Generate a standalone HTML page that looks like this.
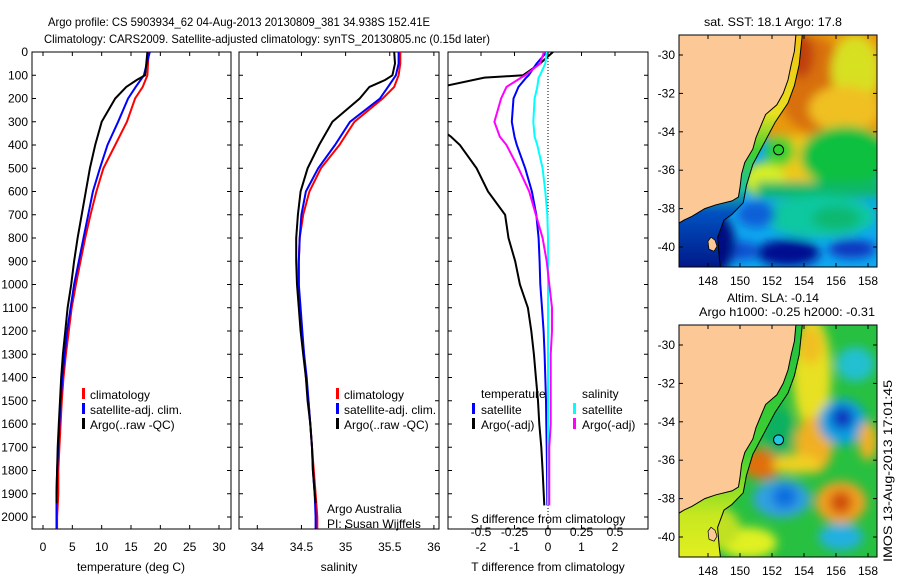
<!DOCTYPE html>
<html><head><meta charset="utf-8"><style>
html,body{margin:0;padding:0;background:#fff;}
svg{display:block;font-family:"Liberation Sans",sans-serif;}
text{font-size:12px;fill:#000;}
</style></head><body>
<svg id="fig" width="900" height="580" viewBox="0 0 900 580">
<defs>
<filter id="bl" x="-20%" y="-20%" width="140%" height="140%"><feGaussianBlur stdDeviation="5"/></filter>
<clipPath id="c1"><rect x="32" y="52" width="199" height="477"/></clipPath>
<clipPath id="c2"><rect x="239" y="52" width="200" height="477"/></clipPath>
<clipPath id="c3"><rect x="448" y="52" width="200" height="477"/></clipPath>
<clipPath id="m1"><rect x="679" y="35" width="198" height="232"/></clipPath>
<clipPath id="m2"><rect x="679" y="325" width="198" height="232"/></clipPath>
<linearGradient id="shelf1" x1="0" y1="0" x2="0" y2="1">
<stop offset="0" stop-color="#f0c010"/><stop offset="0.35" stop-color="#e8e020"/><stop offset="0.5" stop-color="#40d030"/><stop offset="0.65" stop-color="#20c0a0"/><stop offset="0.75" stop-color="#0050c0"/><stop offset="1" stop-color="#001080"/>
</linearGradient>
<linearGradient id="shelf2" x1="0" y1="0" x2="0" y2="1">
<stop offset="0" stop-color="#20c040"/><stop offset="0.55" stop-color="#40d030"/><stop offset="0.8" stop-color="#c8e820"/><stop offset="1" stop-color="#e8f020"/>
</linearGradient>
</defs>
<text x="48" y="26" textLength="382" lengthAdjust="spacingAndGlyphs">Argo profile: CS 5903934_62 04-Aug-2013 20130809_381 34.938S 152.41E</text>
<text x="44" y="43" textLength="446" lengthAdjust="spacingAndGlyphs">Climatology: CARS2009. Satellite-adjusted climatology: synTS_20130805.nc (0.15d later)</text>

<g id="maps"></g>
<g id="panels"></g>
<text transform="translate(892,562) rotate(-90)" textLength="182" lengthAdjust="spacingAndGlyphs">IMOS 13-Aug-2013 17:01:45</text>
</svg>
<script>
// ---------- profile data ----------
const depthT = [0,50,100,150,200,300,400,500,600,700,800,900,1000,1100,1200,1300,1400,1500,1600,1700,1800,1900,2000,2050];
const tempClim = [18.0,17.9,17.8,17.0,15.7,14.3,12.3,10.3,9.1,8.1,7.2,6.4,5.6,4.9,4.4,3.9,3.5,3.2,3.0,2.8,2.6,2.6,2.4,2.4];
const tempSat  = [18.2,17.7,17.2,15.8,14.5,12.8,11.0,9.7,8.5,7.7,6.9,6.1,5.3,4.7,4.1,3.7,3.3,3.0,2.8,2.6,2.4,2.3,2.3,2.3];
const depthA = [0,50,100,120,150,200,300,400,500,600,700,800,900,1000,1100,1200,1300,1400,1500,1600,1700,1800,1900,1940];
const tempArgo = [17.8,17.6,17.4,16.0,14.2,12.3,10.0,8.9,8.0,7.3,6.6,5.9,5.3,4.8,4.2,3.8,3.4,3.1,2.9,2.7,2.5,2.4,2.3,2.3];
const salClim = [35.62,35.62,35.6,35.55,35.42,35.1,34.93,34.72,34.59,34.52,34.48,34.47,34.47,34.48,34.5,34.53,34.55,34.58,34.6,34.62,34.64,34.66,34.68,34.68];
const salSat  = [35.6,35.6,35.57,35.48,35.39,35.05,34.88,34.69,34.55,34.5,34.48,34.47,34.47,34.49,34.51,34.53,34.56,34.58,34.6,34.62,34.63,34.65,34.66,34.66];
const salArgo = [35.55,35.56,35.53,35.45,35.27,35.16,34.85,34.7,34.57,34.49,34.46,34.44,34.44,34.45,34.47,34.49,34.52,34.55,34.57,34.6,34.62,34.63,34.65,34.66];
const depthD = [0,50,100,110,150,200,300,364,400,500,600,700,800,900,1000,1100,1200,1300,1400,1500,1600,1700,1800,1950];
const dTArgo = [0.15,-0.24,-0.75,-1.9,-3.2,-3.5,-3.5,-2.9,-2.63,-2.13,-1.79,-1.28,-1.18,-0.98,-0.84,-0.6,-0.5,-0.42,-0.36,-0.3,-0.26,-0.2,-0.16,-0.11];
const dTSat  = [-0.04,-0.34,-0.58,-0.65,-0.88,-1.03,-1.08,-1.0,-0.93,-0.68,-0.48,-0.35,-0.28,-0.25,-0.23,-0.18,-0.13,-0.1,-0.08,-0.06,-0.05,-0.04,-0.03,-0.02];
const dSSat  = [-0.01,-0.02,-0.06,-0.07,-0.08,-0.1,-0.11,-0.1,-0.08,-0.04,-0.02,-0.005,0,0,0,0,0,0,0,0,0,0,0,0];
const dSArgo = [-0.03,-0.06,-0.17,-0.2,-0.31,-0.35,-0.4,-0.36,-0.31,-0.22,-0.14,-0.09,-0.04,-0.01,0.01,0.03,0.03,0.02,0.02,0.02,0.02,0.01,0.01,0.01];
const depthTicks = [0,100,200,300,400,500,600,700,800,900,1000,1100,1200,1300,1400,1500,1600,1700,1800,1900,2000];
const tTicks = [0,5,10,15,20,25,30];
const sTicks = [34,34.5,35,35.5,36];
const dTTicks = [-2,-1,0,1,2];
const dSTicks = [-0.5,-0.25,0,0.25,0.5];
const dSTickLabels = ["-0.5","-0.25","0","0.25","0.5"];
const mapLonTicks = [148,150,152,154,156,158];
const mapLatTicks = [-30,-32,-34,-36,-38,-40];

const NS="http://www.w3.org/2000/svg";
function mk(tag, attrs, parent){const e=document.createElementNS(NS,tag);for(const k in attrs)e.setAttribute(k,attrs[k]);parent.appendChild(e);return e;}
const Y = d => 52 + 0.2325*d;
const xT = v => 43 + 5.867*v;
const xS = v => 257.3 + 88.3*(v-34);
const xDT = v => 548 + 33.5*v;
const xDS = v => 548 + 134*v;
const panels=document.getElementById('panels');

function line(depths, vals, xf, color, clip, name, w){
  let d='';
  for(let i=0;i<vals.length;i++){d+=(i?'L':'M')+xf(vals[i]).toFixed(1)+','+Y(depths[i]).toFixed(1);}
  const p=mk('path',{d:d,fill:'none',stroke:color,'stroke-width':w||2,'clip-path':'url(#'+clip+')'},panels);
  
  
}
function frame(x0,x1,name){
  const r=mk('rect',{x:x0,y:52,width:x1-x0,height:477,fill:'none',stroke:'#000','stroke-width':1},panels);
  
  
  depthTicks.forEach(d=>{
    mk('line',{x1:x0,x2:x0+4,y1:Y(d),y2:Y(d),stroke:'#000'},panels);
    mk('line',{x1:x1-4,x2:x1,y1:Y(d),y2:Y(d),stroke:'#000'},panels);
  });
}
function xticks(vals, xf, labels, ly, name){
  vals.forEach((v,i)=>{
    const x=xf(v);
    mk('line',{x1:x,x2:x,y1:52,y2:56,stroke:'#000'},panels);
    mk('line',{x1:x,x2:x,y1:525,y2:529,stroke:'#000'},panels);
    if(labels){const t=mk('text',{x:x,y:ly,'text-anchor':'middle'},panels);t.textContent=labels[i];
      
      }
  });
}
function txt(x,y,s,name,anchor){const t=mk('text',{x:x,y:y,'text-anchor':anchor||'start'},panels);t.textContent=s;
  
  return t;}
function legBar(x,y,c){mk('rect',{x:x,y:y-10,width:3,height:11,fill:c},panels);}

// Panel 1
frame(32,231,'temperature-panel');
depthTicks.forEach(d=>{const t=txt(28,Y(d)+4,String(d),'depth-tick-label','end');});
xticks(tTicks,xT,tTicks.map(String),551,'temperature-tick-label');
line(depthT,tempClim,xT,'#ff0000','c1','temp-climatology-line');
line(depthT,tempSat,xT,'#0000ff','c1','temp-satellite-line');
line(depthA,tempArgo,xT,'#000000','c1','temp-argo-line');
txt(131,571,'temperature (deg C)','temperature-axis-title','middle');
legBar(82,398,'#f00');txt(90,399,'climatology','legend-climatology');
legBar(82,413,'#00f');txt(90,414,'satellite-adj. clim.','legend-satellite');
legBar(82,428,'#000');txt(90,429,'Argo(..raw -QC)','legend-argo');

// Panel 2
frame(239,439,'salinity-panel');
xticks(sTicks,xS,sTicks.map(String),551,'salinity-tick-label');
line(depthT,salClim,xS,'#ff0000','c2','sal-climatology-line');
line(depthT,salSat,xS,'#0000ff','c2','sal-satellite-line');
line(depthA,salArgo,xS,'#000000','c2','sal-argo-line');
txt(339,571,'salinity','salinity-axis-title','middle');
legBar(336,398,'#f00');txt(344,399,'climatology','legend-climatology');
legBar(336,413,'#00f');txt(344,414,'satellite-adj. clim.','legend-satellite');
legBar(336,428,'#000');txt(344,429,'Argo(..raw -QC)','legend-argo');
txt(327,513,'Argo Australia','credit-line-1');
txt(327,528,'PI: Susan Wijffels','credit-line-2');

// Panel 3
frame(448,648,'difference-panel');
mk('line',{x1:548,x2:548,y1:52,y2:529,stroke:'#000','stroke-dasharray':'1,2'},panels);
xticks(dTTicks,xDT,dTTicks.map(String),551,'t-diff-tick-label');
dSTicks.forEach((v,i)=>{const t=txt(xDS(v),536,dSTickLabels[i],'s-diff-tick-label','middle');});
line(depthD,dTArgo,xDT,'#000000','c3','tdiff-argo-line');
line(depthD,dTSat,xDT,'#0000ff','c3','tdiff-satellite-line');
line(depthD,dSSat,xDS,'#00ffff','c3','sdiff-satellite-line');
line(depthD,dSArgo,xDS,'#ff00ff','c3','sdiff-argo-line');
txt(548,571,'T difference from climatology','t-diff-axis-title','middle');
txt(548,523,'S difference from climatology','s-diff-axis-title','middle');
txt(481,398,'temperature','legend-temperature-heading');
legBar(472,413,'#00f');txt(481,414,'satellite','legend-t-satellite');
legBar(472,428,'#000');txt(481,429,'Argo(-adj)','legend-t-argo');
txt(582,398,'salinity','legend-salinity-heading');
legBar(573,413,'#0ff');txt(582,414,'satellite','legend-s-satellite');
legBar(573,428,'#f0f');txt(582,429,'Argo(-adj)','legend-s-argo');

// ---------- maps ----------
const maps=document.getElementById('maps');
const coast=[[153.5,-28.9],[153.4,-29.8],[153.2,-30.5],[153.0,-31.3],[152.7,-32],[152.3,-32.6],[151.6,-33.1],[151.3,-33.7],[151,-34.3],[150.8,-34.9],[150.3,-35.6],[150.1,-36.2],[150,-36.9],[149.9,-37.4],[149.5,-37.6],[148.5,-37.8],[147.8,-38],[147,-38.4],[146.5,-38.6],[146.1,-38.8]];
const iso=[[153.9,-28.9],[153.7,-30.5],[153.4,-31.6],[153,-32.5],[152.2,-33.5],[151.5,-34.6],[150.8,-35.7],[150.4,-36.8],[150.2,-37.7],[149.5,-38.3],[149,-38.6],[148.6,-39.5],[148.7,-40.5],[148.8,-41.2]];
function drawMap(oy, clip, bgColor, shelf, blobs, titles, name, dotColor){
  const mx=lon=>708+16*(lon-148), my=lat=>oy+55+19.2*(-30-lat);
  const g=mk('g',{'clip-path':'url(#'+clip+')'},maps);
  
  
  mk('rect',{x:670,y:oy+25,width:220,height:250,fill:bgColor},g);
  const bg=mk('g',{filter:'url(#bl)'},g);
  blobs.forEach(b=>{
    if(b[0]==='r') mk('rect',{x:mx(b[1]),y:my(b[2]),width:mx(b[3])-mx(b[1]),height:my(b[4])-my(b[2]),fill:b[5]},bg);
    else mk('ellipse',{cx:mx(b[1]),cy:my(b[2]),rx:16*b[3],ry:19.2*b[4],fill:b[5]},bg);
  });
  let ds='M'+mx(146)+','+my(-28.5);
  iso.forEach(p=>ds+='L'+mx(p[0]).toFixed(1)+','+my(p[1]).toFixed(1));
  ds+='L'+mx(146)+','+my(-41.5)+'Z';
  mk('path',{d:ds,fill:shelf},g);
  let d='M'+mx(146)+','+my(-28.5);
  coast.forEach(p=>d+='L'+mx(p[0]).toFixed(1)+','+my(p[1]).toFixed(1));
  d+='L'+mx(146)+','+my(-38.8)+'Z';
  mk('path',{d:d,fill:'#fcc996',stroke:'#000','stroke-width':1},g);
  mk('path',{d:'M'+mx(148)+','+my(-39.7)+'l3,-4l4,3l2,6l-3,5l-5,-2z',fill:'#fcc996',stroke:'#000','stroke-width':0.7},g);
  let d2='';iso.forEach((p,i)=>d2+=(i?'L':'M')+mx(p[0]).toFixed(1)+','+my(p[1]).toFixed(1));
  mk('path',{d:d2,fill:'none',stroke:'#000','stroke-width':1},g);
  const dot=mk('circle',{cx:mx(152.41),cy:my(-34.94),r:5,fill:dotColor,stroke:'#000'},g);
  
  
  mk('rect',{x:679,y:oy+35,width:198,height:232,fill:'none',stroke:'#000'},maps);
  mapLonTicks.forEach(l=>{const x=mx(l);
    mk('line',{x1:x,x2:x,y1:oy+35,y2:oy+39,stroke:'#000'},maps);
    mk('line',{x1:x,x2:x,y1:oy+263,y2:oy+267,stroke:'#000'},maps);
    const t=mk('text',{x:x,y:oy+285,'text-anchor':'middle'},maps);t.textContent=String(l);
    
    });
  mapLatTicks.forEach(l=>{const y=my(l);
    mk('line',{x1:679,x2:683,y1:y,y2:y,stroke:'#000'},maps);
    mk('line',{x1:873,x2:877,y1:y,y2:y,stroke:'#000'},maps);
    const t=mk('text',{x:675,y:y+4,'text-anchor':'end'},maps);t.textContent=String(l);
    
    });
  titles.forEach(s=>{const t=mk('text',{x:s[1],y:oy+s[2],'text-anchor':'middle',textLength:s[3],lengthAdjust:'spacingAndGlyphs'},maps);t.textContent=s[0];
    
    });
}
drawMap(0,'m1','#10a8f0','url(#shelf1)',[
  ['r',150,-28,160,-34.3,'#e89a10'],
  ['e',154.5,-31.5,2.2,2.5,'#d87010'],
  ['e',153.8,-30,0.8,1.2,'#c04010'],
  ['e',157.2,-30.8,1.5,1.8,'#d8e020'],
  ['e',156.5,-32.8,2.2,1.2,'#f0c020'],
  ['e',153.6,-35.6,1.6,1.4,'#f0c818'],
  ['e',151.5,-36.5,1.3,0.9,'#d8ef20'],
  ['e',156.6,-35.3,2.8,1.6,'#10c040'],
  ['e',152.5,-35,0.9,0.8,'#30d030'],
  ['r',151,-36.6,160,-37.4,'#10b868'],
  ['e',155,-38.4,3.5,1.1,'#10c8a0'],
  ['e',156,-38.5,1.5,0.6,'#10b870'],
  ['e',153,-40.3,2,0.7,'#000890'],
  ['e',157,-40.1,1.5,0.5,'#0838c0'],
  ['e',150,-40.2,1.2,0.5,'#1050d0'],
  ['e',147.5,-39.8,2.2,2,'#001080'],
  ['e',151,-38.3,1.2,0.7,'#0860d8']
],[['sat. SST: 18.1 Argo: 17.8',773,26,138]],'sst-map','#30d030');
drawMap(290,'m2','#28c040','url(#shelf2)',[
  ['e',154.5,-31.5,1.2,3,'#e8e020'],
  ['e',154.4,-30,0.8,1,'#f0c020'],
  ['e',154.6,-35.2,1.2,1.5,'#f0b020'],
  ['e',151.4,-36.2,1.3,0.8,'#e07010'],
  ['e',153.5,-36.2,1.5,0.5,'#f0d020'],
  ['e',156.4,-34,1.5,1.2,'#10a0e0'],
  ['e',156.4,-33.8,0.7,0.6,'#0838c0'],
  ['e',157.2,-31,1.2,0.9,'#20c0d0'],
  ['e',152.6,-38,1.8,1,'#30a0e0'],
  ['e',152.8,-37.9,0.8,0.6,'#1070e0'],
  ['e',156.3,-38.2,1.6,1.1,'#f0a020'],
  ['e',156.3,-38.2,0.7,0.6,'#d05010'],
  ['e',156.3,-40,1.4,0.7,'#20b0e0'],
  ['e',150.5,-40.3,1.8,0.8,'#e0f020'],
  ['e',148,-39.5,2,1.2,'#c0e020'],
  ['e',158,-35,0.6,1,'#f0b020'],
  ['e',152.4,-34.5,1,1.3,'#10b060']
],[['Altim. SLA: -0.14',773,12,92],['Argo h1000: -0.25 h2000: -0.31',787,26,176]],'sla-map','#20c8e0');
</script>
</body></html>
